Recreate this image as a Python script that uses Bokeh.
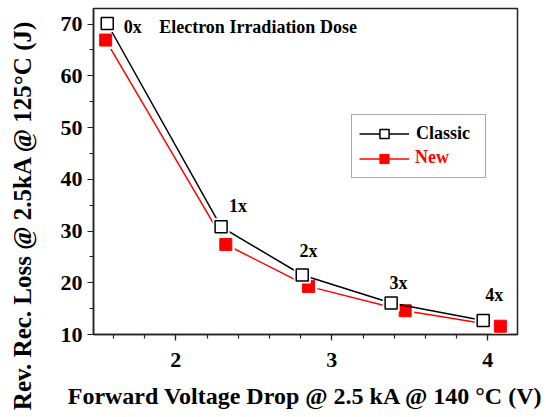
from bokeh.plotting import figure
from bokeh.models import (Range1d, SingleIntervalTicker, ColumnDataSource, Legend,
                          LegendItem, Label)
from bokeh.embed import file_html
from bokeh.resources import INLINE

# Forward voltage drop (V) vs. reverse recovery loss (J) per irradiation dose
doses = ["0x", "1x", "2x", "3x", "4x"]
classic_vf = [1.56, 2.29, 2.81, 3.38, 3.97]
classic_err = [70.1, 30.8, 21.5, 16.1, 12.7]
new_vf = [1.55, 2.32, 2.85, 3.47, 4.08]
new_err = [66.9, 27.4, 19.3, 14.6, 11.6]

FONT = "Liberation Serif"
RED = "#ff0000"

p = figure(frame_width=424, frame_height=326,
           min_border_left=93, min_border_right=29, min_border_top=8, min_border_bottom=83,
           x_range=Range1d(1.472, 4.19), y_range=Range1d(10, 73),
           output_backend="svg", toolbar_location=None)
p.grid.visible = False
p.outline_line_color = "#222222"
p.outline_line_width = 1.5
p.background_fill_color = "white"
p.border_fill_color = "white"

p.xaxis.ticker = SingleIntervalTicker(interval=1, num_minor_ticks=5)
p.yaxis.ticker = SingleIntervalTicker(interval=10, num_minor_ticks=2)
for ax in (p.xaxis, p.yaxis):
    ax.axis_line_color = "#222222"
    ax.axis_line_width = 1.5
    ax.major_tick_line_color = "#222222"
    ax.minor_tick_line_color = "#222222"
    ax.major_tick_line_width = 1.2
    ax.minor_tick_line_width = 1.2
    ax.major_tick_in = 0
    ax.minor_tick_in = 0
    ax.major_tick_out = 6
    ax.minor_tick_out = 4
    ax.major_label_text_font = FONT
    ax.major_label_text_font_style = "bold"
    ax.major_label_text_font_size = "22px"
    ax.major_label_text_color = "black"
    ax.axis_label_text_font = FONT
    ax.axis_label_text_font_style = "bold"
    ax.axis_label_text_color = "black"
p.xaxis.major_label_standoff = 12
p.yaxis.major_label_standoff = 5

p.xaxis.axis_label = "Forward Voltage Drop @ 2.5 kA @ 140 \u00b0C (V)"
p.xaxis.axis_label_text_font_size = "24px"
p.xaxis.axis_label_standoff = 13

# trailing no-break spaces push the centred title a little below the frame middle
p.yaxis.axis_label = "Rev. Rec. Loss @ 2.5kA @ 125\u00b0C  (J)" + "\u00a0" * 13
p.yaxis.axis_label_text_font_size = "25px"
p.yaxis.axis_label_standoff = 22

# New series (drawn first, underneath); the white halo opens a gap in the line
new_src = ColumnDataSource(dict(x=new_vf, y=new_err))
new_line = p.line("x", "y", source=new_src, line_color=RED, line_width=1.5)
p.scatter("x", "y", source=new_src, marker="square", size=18,
          fill_color="white", line_color=None)
new_marks = p.scatter("x", "y", source=new_src, marker="square", size=12,
                      fill_color=RED, line_color=RED, line_width=1)

# Classic series on top
cls_src = ColumnDataSource(dict(x=classic_vf, y=classic_err, dose=doses,
                                dx=[16.5, 8, -2.7, -1.7, 2], dy=[3, -21, -24, -19.7, -25.3]))
cls_line = p.line("x", "y", source=cls_src, line_color="black", line_width=1.5)
p.scatter("x", "y", source=cls_src, marker="square", size=17,
          fill_color="white", line_color=None)
cls_marks = p.scatter("x", "y", source=cls_src, marker="square", size=12,
                      fill_color="white", line_color="black", line_width=1.5)

# dose labels beside the Classic points
p.text("x", "y", text="dose", source=cls_src, x_offset="dx", y_offset="dy",
       text_font={"value": FONT}, text_font_style="bold", text_font_size="18px",
       text_color="black", text_align="left", text_baseline="middle")
p.add_layout(Label(x=classic_vf[0], y=classic_err[0], x_offset=52, y_offset=-3,
                   text="Electron Irradiation Dose", text_font=FONT,
                   text_font_style="bold", text_font_size="18px", text_color="black",
                   text_align="left", text_baseline="middle"))

# boxed legend; a transparent legend with the same rows writes the red caption
leg_style = dict(glyph_width=50, glyph_height=23, label_height=23, label_standoff=7,
                 label_width=62, spacing=2, padding=7, margin=0,
                 label_text_font=FONT, label_text_font_style="bold",
                 label_text_font_size="18px")
leg = Legend(items=[LegendItem(label="Classic", renderers=[cls_line, cls_marks]),
                    LegendItem(label=" ", renderers=[new_line, new_marks])],
             location=(258, 156), label_text_color="black",
             border_line_color="#555555", border_line_width=1.2,
             background_fill_color="white", background_fill_alpha=1.0, **leg_style)
p.add_layout(leg)

blank = p.scatter(x=[], y=[], marker="square", fill_alpha=0, line_alpha=0)
leg_red = Legend(items=[LegendItem(label=" ", renderers=[blank]),
                        LegendItem(label="New", renderers=[blank])],
                 location=(265, 165), label_text_color=RED, border_line_color=None,
                 background_fill_alpha=0, **leg_style)
p.add_layout(leg_red)

open("out.html", "w").write(file_html(p, INLINE))
